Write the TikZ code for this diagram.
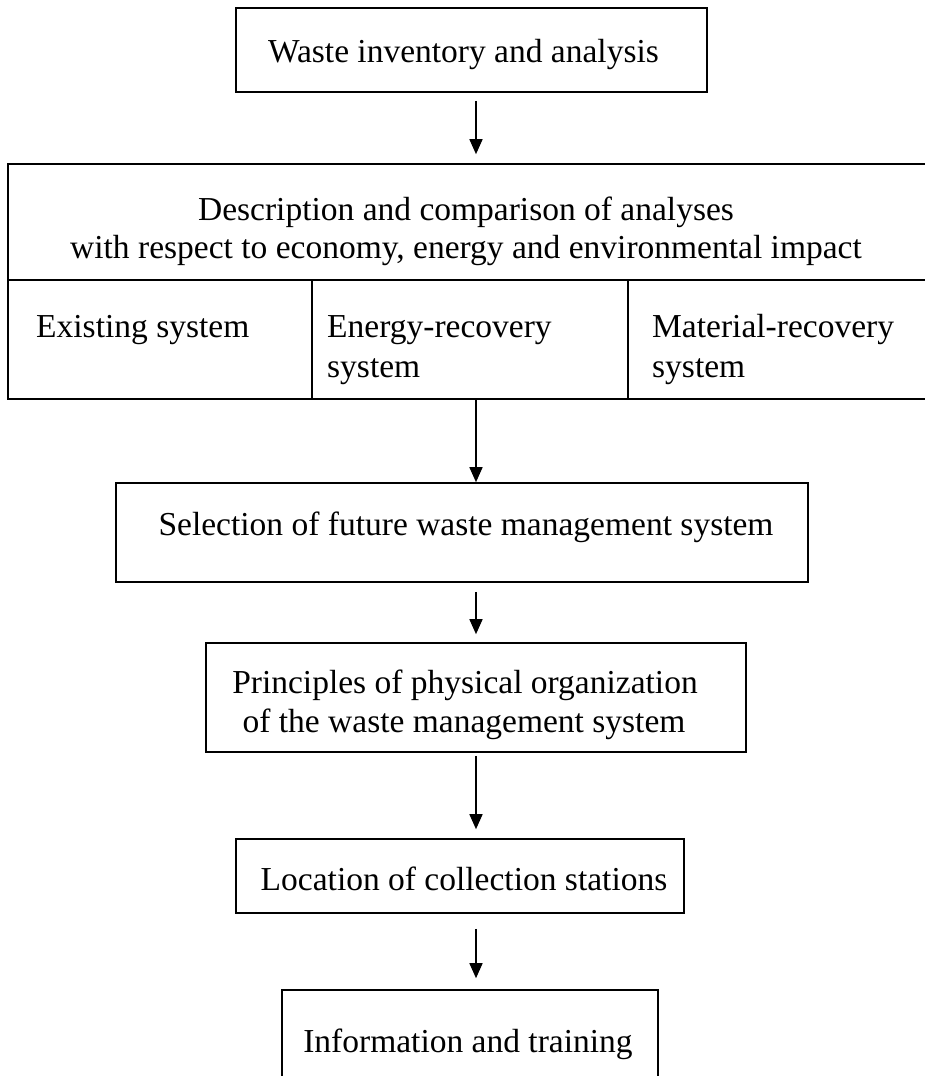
\documentclass[tikz,border=0pt]{standalone}
\usepackage{fontspec}
\setmainfont{Liberation Serif}
\usetikzlibrary{arrows.meta}
\begin{document}
\begin{tikzpicture}[x=1pt,y=-1pt,
  box/.style={draw, line width=1.6pt, rectangle, inner sep=0pt},
  lbl/.style={font=\fontsize{33.5}{39}\selectfont, inner sep=0pt, anchor=base},
  cell/.style={font=\fontsize{33.5}{40}\selectfont, inner sep=0pt, anchor=base west, align=left},
  flow/.style={-{Triangle[length=15pt,width=13pt]}, line width=1.5pt}]
\useasboundingbox (0,0) rectangle (925,1076);

% boxes (centre, width, height)
\node[box, minimum width=471pt, minimum height=84pt]  (inv)  at (471.5,50)  {};
\node[box, minimum width=918pt, minimum height=116pt] (desc) at (467,222)   {};
\node[box, minimum width=304pt, minimum height=119pt] (ex)   at (160,339.5) {};
\node[box, minimum width=316pt, minimum height=119pt] (en)   at (470,339.5) {};
\node[box, minimum width=298pt, minimum height=119pt] (mat)  at (777,339.5) {};
\node[box, minimum width=692pt, minimum height=99pt]  (sel)  at (462,532.5) {};
\node[box, minimum width=540pt, minimum height=109pt] (prin) at (476,697.5) {};
\node[box, minimum width=448pt, minimum height=74pt]  (loc)  at (460,876)   {};
\node[box, minimum width=376pt, minimum height=110pt] (info) at (470,1045)  {};

% texts (multi-line nodes sit on the baseline of their last line)
\node[lbl] (invt) at (463.5,62) {Waste inventory and analysis};
\node[lbl] (desct1) at (466,220) {Description and comparison of analyses};
\node[lbl] (desct2) at (466,258) {with respect to economy, energy and environmental impact};
\node[cell] (ext) at (36,337) {Existing system};
\node[cell] (ent) at (327,377) {Energy-recovery\\system};
\node[cell] (matt) at (652,377) {Material-recovery\\system};
\node[lbl] (selt) at (466,535) {Selection of future waste management system};
\node[lbl] (print1) at (465,693) {Principles of physical organization};
\node[lbl] (print2) at (464,732) {of the waste management system};
\node[lbl] (loct) at (464,890) {Location of collection stations};
\node[lbl] (infot) at (468,1052) {Information and training};

% connectors
\coordinate (axis) at (476,0);
\draw[flow, shorten <=8pt, shorten >=9pt] (inv.south -| axis) -- (desc.north -| axis);
\draw[flow] (en.south -| axis) -- (sel.north -| axis);
\draw[flow, shorten <=9pt, shorten >=8pt] (sel.south -| axis) -- (prin.north -| axis);
\draw[flow, shorten <=3pt, shorten >=9pt] (prin.south -| axis) -- (loc.north -| axis);
\draw[flow, shorten <=15pt, shorten >=11pt] (loc.south -| axis) -- (info.north -| axis);
\end{tikzpicture}
\end{document}
